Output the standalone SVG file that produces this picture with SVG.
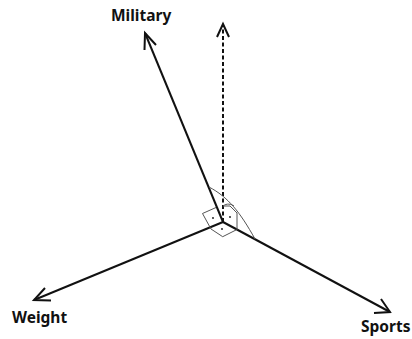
<svg xmlns="http://www.w3.org/2000/svg" width="412" height="339" viewBox="0 0 412 339">
<style>
.axis{fill:none;stroke:#111;stroke-width:2}
.head{fill:none;stroke:#111;stroke-width:2}
.thin{fill:none;stroke:#555;stroke-width:1}
.dot{fill:#111}
text{font-family:"Noto Sans","DejaVu Sans",sans-serif;font-size:15.5px;font-weight:700;fill:#111}
</style>
<rect width="412" height="339" fill="#fff"/>
<g id="connectors">
<path class="axis" d="M223 222L145 33"/>
<path class="head" d="M144.500 50L145 33L156 45"/>
<path class="axis" d="M223 222L223 26" stroke-dasharray="4 2.500"/>
<path class="head" d="M217 37L223 24L229 37"/>
<path class="axis" d="M223 222L34 300"/>
<path class="head" d="M51 300.500L34 300L45 288"/>
<path class="axis" d="M223 222L390 312"/>
<path class="head" d="M374 313L390 312L381 299"/>
</g>
<g id="angles">
<path class="thin" d="M211 229L202.500 213.500L216 207.500"/>
<path class="thin" d="M223 206L230 206L237 213L237 230"/>
<path class="thin" d="M211 229L222.700 236.700L236 230"/>
<path class="thin" d="M209 187C228 197 240 212 255 239"/>
<path class="thin" d="M223 206C227 203 231 204 234 206"/>
<circle class="dot" cx="213" cy="218" r="0.900"/>
<circle class="dot" cx="230" cy="217" r="0.900"/>
<circle class="dot" cx="222" cy="229" r="0.900"/>
</g>
<g id="military"><text x="111" y="21">Military</text></g>
<g id="weight"><text x="12" y="323">Weight</text></g>
<g id="sports"><text x="361" y="332">Sports</text></g>
</svg>
